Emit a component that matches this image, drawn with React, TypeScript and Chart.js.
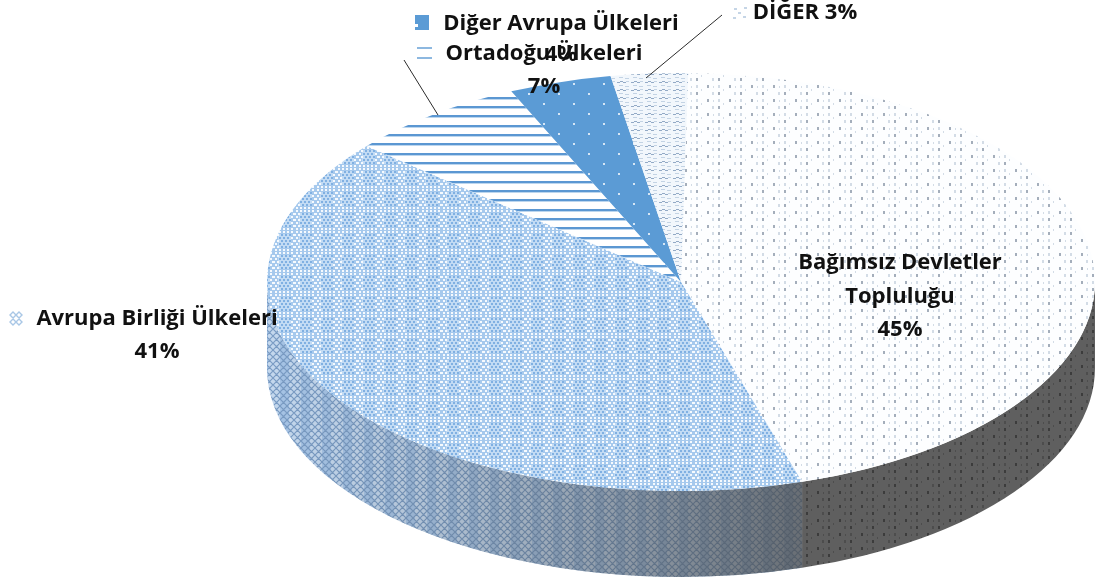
import React, { useEffect, useRef } from "react";
import { Chart, registerables } from "chart.js";

Chart.register(...registerables);

const categories = ["Bağımsız Devletler Topluluğu", "Avrupa Birliği Ülkeleri", "Ortadoğu Ülkeleri", "Diğer Avrupa Ülkeleri", "DİĞER"];
const shares = [45, 41, 7, 4, 3];
const FONT = '700 22px "Open Sans", Lato, sans-serif';

type Painter = (g: CanvasRenderingContext2D) => void;

function tile(w: number, h: number, paint: Painter): HTMLCanvasElement {
  const c = document.createElement("canvas");
  c.width = w;
  c.height = h;
  paint(c.getContext("2d")!);
  return c;
}

const dotsTile = (base: string, dark: string, light: string) =>
  tile(22, 14, (g) => {
    g.fillStyle = base;
    g.fillRect(0, 0, 22, 14);
    g.fillStyle = dark;
    g.fillRect(3, 1, 2, 3);
    g.fillRect(14, 8, 2, 3);
    g.fillStyle = light;
    g.fillRect(14, 1, 2, 3);
    g.fillRect(8, 8, 2, 3);
    g.fillRect(19, 5, 1, 2);
    g.fillRect(9, 2, 1, 2);
  });

const meshTile = () =>
  tile(21, 21, (g) => {
    g.fillStyle = "#a6c9ed";
    g.fillRect(0, 0, 21, 21);
    g.fillStyle = "#c2dbf4";
    g.fillRect(5, 3, 13, 14);
    for (let y = 0; y < 21; y += 3) {
      const offset = (y / 3) % 2 ? 0 : 2;
      for (let x = offset; x < 21; x += 4) {
        const inBlock = x >= 5 && x < 17 && y >= 3 && y < 17;
        g.fillStyle = inBlock ? "#80b0e2" : "#f6fafe";
        g.fillRect(x, y, 2, 2);
      }
    }
  });

const wallMeshTile = () =>
  tile(21, 14, (g) => {
    g.fillStyle = "#c4d8ee";
    g.fillRect(0, 0, 21, 14);
    g.fillStyle = "#a6c4e6";
    g.fillRect(7, 0, 9, 14);
    g.strokeStyle = "#7a9cc4";
    g.lineWidth = 1.1;
    g.beginPath();
    for (let x = -21; x < 42; x += 7) {
      g.moveTo(x, 0);
      g.lineTo(x + 3.5, 3.5);
      g.lineTo(x, 7);
      g.lineTo(x + 3.5, 10.5);
      g.lineTo(x, 14);
      g.moveTo(x + 7, 0);
      g.lineTo(x + 3.5, 3.5);
      g.lineTo(x + 7, 7);
      g.lineTo(x + 3.5, 10.5);
      g.lineTo(x + 7, 14);
    }
    g.stroke();
  });

const linesTile = () =>
  tile(8, 28, (g) => {
    g.fillStyle = "#ffffff";
    g.fillRect(0, 0, 8, 28);
    [3, 13, 22].forEach((y) => {
      g.fillStyle = "#5b97d2";
      g.fillRect(0, y, 8, 2);
      g.fillStyle = "#bcd6ee";
      g.fillRect(0, y + 2, 8, 1);
    });
  });

const solidDotsTile = () =>
  tile(30, 20, (g) => {
    g.fillStyle = "#5b9bd5";
    g.fillRect(0, 0, 30, 20);
    g.fillStyle = "#d6e6f5";
    g.fillRect(3, 3, 2, 2);
    g.fillRect(18, 13, 2, 2);
  });

const waveTile = () =>
  tile(14, 8, (g) => {
    g.fillStyle = "#f2f7fc";
    g.fillRect(0, 0, 14, 8);
    g.fillStyle = "#93aac6";
    g.fillRect(1, 2, 3, 1);
    g.fillRect(4, 1, 3, 1);
    g.fillRect(7, 2, 3, 1);
    g.fillStyle = "#c3d3e4";
    g.fillRect(10, 1, 3, 1);
    g.fillRect(3, 5, 4, 1);
    g.fillRect(9, 6, 4, 1);
  });

export default function App() {
  const ref = useRef<HTMLCanvasElement>(null);

  useEffect(() => {
    const canvas = ref.current!;
    const ctx = canvas.getContext("2d")!;
    const ratioY = 209 / 414;
    const cyPix = 282;

    const facePattern = (t: HTMLCanvasElement) => {
      const p = ctx.createPattern(t, "repeat")!;
      p.setTransform(new DOMMatrix().translate(0, cyPix * (1 - 1 / ratioY)).scale(1, 1 / ratioY));
      return p;
    };
    const screenPattern = (t: HTMLCanvasElement) => ctx.createPattern(t, "repeat")!;

    const faces = [
      facePattern(dotsTile("#fdfeff", "#a4aebb", "#d3dce6")),
      facePattern(meshTile()),
      facePattern(linesTile()),
      facePattern(solidDotsTile()),
      facePattern(waveTile()),
    ];
    const walls = [
      screenPattern(dotsTile("#5f5f5f", "#3c3c3c", "#4d4d4d")),
      screenPattern(wallMeshTile()),
      "#3f6f9f",
      "#3f6f9f",
      "#777777",
    ];

    const pie3d = {
      id: "pie3d",
      beforeDatasetsDraw(chart: any) {
        const c = chart.ctx as CanvasRenderingContext2D;
        const arcs = chart.getDatasetMeta(0).data;
        const depth = 86;
        arcs.forEach((arc: any, i: number) => {
          const { x, y, startAngle, endAngle, outerRadius } = arc;
          for (const shift of [0, Math.PI * 2]) {
            const a0 = Math.max(startAngle, shift);
            const a1 = Math.min(endAngle, shift + Math.PI);
            if (a1 <= a0) continue;
            const rx = outerRadius;
            const ry = outerRadius * ratioY;
            c.beginPath();
            c.ellipse(x, y, rx, ry, 0, a0, a1);
            c.ellipse(x, y + depth, rx, ry, 0, a1, a0, true);
            c.closePath();
            c.fillStyle = walls[i] as any;
            c.fill();
            if (i === 1) {
              const g = c.createLinearGradient(x - rx, 0, x + 120, 0);
              g.addColorStop(0, "rgba(70,70,70,0)");
              g.addColorStop(0.3, "rgba(70,70,70,0.15)");
              g.addColorStop(0.7, "rgba(70,70,70,0.45)");
              g.addColorStop(1, "rgba(70,70,70,0.72)");
              c.fillStyle = g;
              c.fill();
            }
          }
        });
        const first = arcs[0];
        c.save();
        c.translate(first.x, first.y);
        c.scale(1, ratioY);
        c.translate(-first.x, -first.y);
      },
      afterDatasetsDraw(chart: any) {
        chart.ctx.restore();
      },
      afterDraw(chart: any) {
        const c = chart.ctx as CanvasRenderingContext2D;
        c.save();
        c.strokeStyle = "#2b2b2b";
        c.lineWidth = 1;
        c.beginPath();
        c.moveTo(404, 60);
        c.lineTo(438, 115);
        c.moveTo(722, 15);
        c.lineTo(646, 78);
        c.stroke();

        c.fillStyle = "#5b9bd5";
        c.fillRect(415, 15, 14, 15);
        c.fillStyle = "#ffffff";
        c.fillRect(415, 24, 3, 3);
        c.fillStyle = "#8db8e0";
        c.fillRect(417, 47, 15, 2);
        c.fillRect(417, 57, 15, 2);
        c.fillStyle = "#c5d5e6";
        [[734, 8], [744, 7], [738, 12], [733, 17], [743, 16]].forEach(([x, y]) => c.fillRect(x, y, 3, 2));
        c.strokeStyle = "#a9c7e6";
        c.lineWidth = 1.4;
        c.beginPath();
        [[10, 312], [16, 312], [10, 319], [16, 319]].forEach(([x, y]) => {
          c.moveTo(x, y + 3);
          c.lineTo(x + 3, y);
          c.lineTo(x + 6, y + 3);
          c.lineTo(x + 3, y + 6);
          c.closePath();
        });
        c.stroke();

        c.font = FONT;
        c.fillStyle = "#111111";
        c.textAlign = "center";
        c.textBaseline = "middle";
        const [bdt, ab, ort, da, dg] = categories;
        const parts = bdt.split(" ");
        c.fillText(`${parts[0]} ${parts[1]}`, 900, 263);
        c.fillText(parts[2], 900, 297);
        c.fillText(`${shares[0]}%`, 900, 330);
        c.fillText(ab, 157, 319);
        c.fillText(`${shares[1]}%`, 157, 352);
        c.fillText(da, 561, 24);
        c.fillText(`${shares[3]}%`, 561, 55);
        c.fillText(ort, 544, 54);
        c.fillText(`${shares[2]}%`, 544, 87);
        c.fillText(`${dg} ${shares[4]}%`, 805, 13);
        c.restore();
      },
    };

    const chart = new Chart(canvas, {
      type: "pie",
      data: {
        labels: categories,
        datasets: [{ data: shares, backgroundColor: faces as any, borderWidth: 0, clip: false as any }],
      },
      options: {
        responsive: false,
        animation: false,
        radius: 414,
        rotation: 1,
        layout: { padding: { left: 265, right: 0, top: 0, bottom: 17 } },
        events: [],
        plugins: { legend: { display: false }, tooltip: { enabled: false } },
      } as any,
      plugins: [pie3d as any],
    });
    return () => chart.destroy();
  }, []);

  return (
    <canvas
      ref={ref}
      width={1097}
      height={581}
      style={{ position: "fixed", left: 0, top: 0, width: 1097, height: 581, background: "#ffffff" }}
    />
  );
}
